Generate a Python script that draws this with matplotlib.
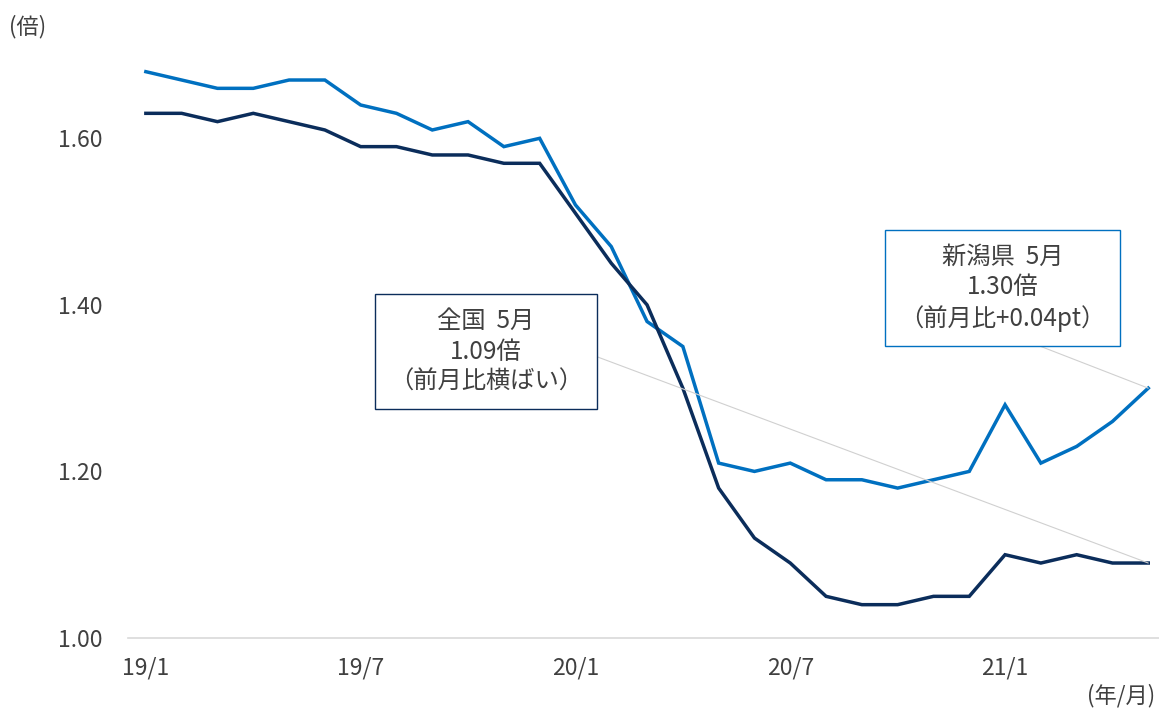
import matplotlib
matplotlib.use("Agg")
import matplotlib.pyplot as plt

plt.rcParams['font.family'] = ['Noto Sans CJK JP', 'DejaVu Sans']

# months 19/1 .. 21/5
months = ['19/1', '19/2', '19/3', '19/4', '19/5', '19/6', '19/7', '19/8', '19/9', '19/10', '19/11', '19/12',
          '20/1', '20/2', '20/3', '20/4', '20/5', '20/6', '20/7', '20/8', '20/9', '20/10', '20/11', '20/12',
          '21/1', '21/2', '21/3', '21/4', '21/5']
niigata = [1.68, 1.67, 1.66, 1.66, 1.67, 1.67, 1.64, 1.63, 1.61, 1.62, 1.59, 1.60,
           1.52, 1.47, 1.38, 1.35, 1.21, 1.20, 1.21, 1.19, 1.19, 1.18, 1.19, 1.20,
           1.28, 1.21, 1.23, 1.26, 1.30]
zenkoku = [1.63, 1.63, 1.62, 1.63, 1.62, 1.61, 1.59, 1.59, 1.58, 1.58, 1.57, 1.57,
           1.51, 1.45, 1.40, 1.30, 1.18, 1.12, 1.09, 1.05, 1.04, 1.04, 1.05, 1.05,
           1.10, 1.09, 1.10, 1.09, 1.09]
tick_labels = ['19/1', '19/7', '20/1', '20/7', '21/1']
y_ticks = [1.00, 1.20, 1.40, 1.60]

light = '#0070C0'
navy = '#0B2D5B'
gray = '#404040'

fig = plt.figure(figsize=(11.59, 7.11), dpi=100)
ax = fig.add_axes([0.1104, 0.1027, 0.8896, 0.8199])

x = list(range(len(months)))
ax.plot(x, niigata, color=light, lw=2.5, solid_joinstyle='miter')
ax.plot(x, zenkoku, color=navy, lw=2.5, solid_joinstyle='miter')

ax.set_xlim(-0.5, 28.3)
ax.set_ylim(1.0, 1.70)

# x ticks every 6 months
ax.set_xticks([months.index(t) for t in tick_labels])
ax.set_xticklabels(tick_labels)
ax.set_yticks(y_ticks)
ax.set_yticklabels(['%.2f' % v for v in y_ticks])
ax.tick_params(length=0, labelsize=16.5, colors=gray)
ax.tick_params(axis='x', pad=13)
ax.tick_params(axis='y', pad=18)

for s in ['top', 'right', 'left']:
    ax.spines[s].set_visible(False)
ax.spines['bottom'].set_color('#D9D9D9')
ax.spines['bottom'].set_linewidth(1.2)

fig.text(0.008, 0.962, '(倍)', fontsize=16, color=gray, va='center', ha='left')
fig.text(0.997, 0.022, '(年/月)', fontsize=16, color=gray, va='center', ha='right')

# callouts
ax.annotate('全国  5月\n1.09倍\n（前月比横ばい）', xy=(28, zenkoku[-1]), xytext=(9.5, 1.344),
            ha='center', va='center', fontsize=17.5, color=gray, linespacing=1.22,
            bbox=dict(boxstyle='square,pad=0.58', fc='white', ec=navy, lw=1),
            arrowprops=dict(arrowstyle='-', color='#D0D0D0', lw=0.8, relpos=(1, 0.5),
                            shrinkA=0, shrinkB=0))
ax.annotate('新潟県  5月\n1.30倍\n（前月比+0.04pt）', xy=(28, niigata[-1]), xytext=(23.93, 1.4206),
            ha='center', va='center', fontsize=17.5, color=gray, linespacing=1.22,
            bbox=dict(boxstyle='square,pad=0.58', fc='white', ec=light, lw=1),
            arrowprops=dict(arrowstyle='-', color='#D0D0D0', lw=0.8, relpos=(0.5, 0),
                            shrinkA=0, shrinkB=0))

fig.savefig('out.png', dpi=100)
